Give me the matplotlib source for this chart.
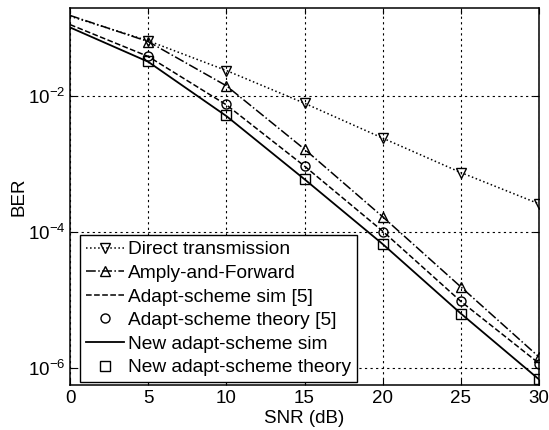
import numpy as np
import matplotlib
matplotlib.use('Agg')
import matplotlib.pyplot as plt

plt.rcParams['font.family'] = ['Liberation Sans', 'DejaVu Sans']
plt.rcParams['mathtext.fontset'] = 'custom'
plt.rcParams['mathtext.rm'] = 'Liberation Sans'

snr = [0, 5, 10, 15, 20, 25, 30]

ber_direct = [0.146, 0.0637, 0.0233, 0.0077, 0.00237, 7.4e-4, 2.57e-4]
ber_af = [0.150, 0.062, 0.0139, 0.00163, 1.66e-4, 1.55e-5, 1.45e-6]
ber_adapt_sim = [0.110, 0.0375, 0.0073, 9.2e-4, 1.02e-4, 9.5e-6, 1.17e-6]
ber_adapt_th = [0.110, 0.0380, 0.0074, 9.2e-4, 1.00e-4, 9.5e-6, 1.15e-6]
ber_new_sim = [0.100, 0.0313, 0.0050, 5.9e-4, 6.6e-5, 6.3e-6, 6.8e-7]
ber_new_th = [0.100, 0.0318, 0.0051, 5.9e-4, 6.5e-5, 6.3e-6, 6.8e-7]

labels = ['Direct transmission', 'Amply-and-Forward', 'Adapt-scheme sim [5]',
          'Adapt-scheme theory [5]', 'New adapt-scheme sim', 'New adapt-scheme theory']

fig = plt.figure(figsize=(5.49, 4.30), dpi=100)
ax = fig.add_axes([70/549, 1-385/430, 469/549, 377/430])

ms = 6.5
ax.semilogy(snr, ber_direct, 'k:v', lw=1.1, ms=ms, mfc='none', markevery=range(1, 7), label=labels[0])
ax.semilogy(snr, ber_af, 'k-.^', lw=1.1, ms=ms, mfc='none', markevery=range(1, 7), label=labels[1])
ax.semilogy(snr, ber_adapt_sim, 'k--', lw=1.1, label=labels[2])
ax.semilogy(snr[1:], ber_adapt_th[1:], 'ko', ls='none', ms=ms, mfc='none', label=labels[3])
ax.semilogy(snr, ber_new_sim, 'k-', lw=1.3, label=labels[4])
ax.semilogy(snr[1:], ber_new_th[1:], 'ks', ls='none', ms=ms, mfc='none', label=labels[5])

ax.set_xlim(0, 30)
ax.set_ylim(10**-6.25, 10**-0.715)
ax.set_xticks(snr)
ax.set_yticks([1e-6, 1e-4, 1e-2])
ax.yaxis.set_minor_locator(matplotlib.ticker.NullLocator())
ax.tick_params(direction='in', top=True, right=True, labelsize=13.5, length=4)
ax.grid(True, which='major', color='k', linestyle=(0, (2, 3)), linewidth=0.8)
for s in ax.spines.values():
    s.set_linewidth(1.1)

ax.set_xlabel('SNR (dB)', fontsize=13.5, labelpad=2)
ax.set_ylabel('BER', fontsize=13.5, labelpad=0)

leg = ax.legend(loc='lower left', bbox_to_anchor=(0.021, 0.008), borderaxespad=0,
                fontsize=13.8, numpoints=1, handlelength=2.0, handletextpad=0.2,
                labelspacing=0.32, borderpad=0.3, fancybox=False, framealpha=1)
leg.get_frame().set_edgecolor('k')
leg.get_frame().set_linewidth(1.0)

fig.savefig('out.png', dpi=100)
